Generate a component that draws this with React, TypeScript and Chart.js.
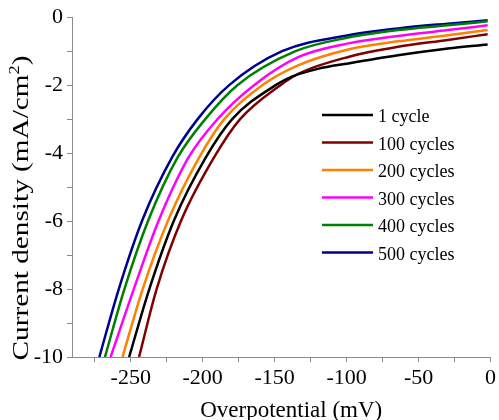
import React, { useEffect, useRef } from 'react';
import { Chart, registerables } from 'chart.js';

Chart.register(...registerables);

const FONT = "'Liberation Serif', 'Times New Roman', Times, serif";
Chart.defaults.font.family = FONT;

const seriesLabels = ['1 cycle', '100 cycles', '200 cycles', '300 cycles', '400 cycles', '500 cycles'];
const seriesColors = ['#000000', '#7f0000', '#ff8000', '#ff00ff', '#008000', '#000090'];

// Overpotential (mV) / current density (mA/cm2) per series
const x1 = [-251.1, -237.3, -219.8, -197.7, -179.5, -149.3, -138, -120, -98.8, -64.2, -29.7, -2];
const y1 = [-10, -8.03, -5.97, -4.12, -3, -2, -1.75, -1.52, -1.36, -1.12, -0.92, -0.8];

const x100 = [-244.2, -232.2, -214.8, -192, -174, -146, -133.3, -98.8, -64.2, -29.7, -2];
const y100 = [-10, -8.03, -5.97, -4.12, -3, -2, -1.66, -1.17, -0.87, -0.67, -0.5];

const x200 = [-255.7, -241.9, -223.9, -202.3, -185, -158.6, -133.3, -98.8, -64.2, -29.7, -2];
const y200 = [-10, -8.03, -5.97, -4.12, -3, -2, -1.41, -0.95, -0.71, -0.53, -0.38];

const x300 = [-264, -248.1, -230.4, -209.7, -189.7, -164.3, -133.3, -98.8, -64.2, -29.7, -2];
const y300 = [-10, -8.03, -5.97, -4.12, -3, -2, -1.17, -0.77, -0.55, -0.38, -0.24];

const x400 = [-267.9, -254.6, -237.7, -217.3, -198.2, -175.9, -135.5, -98.8, -64.2, -29.7, -2];
const y400 = [-10, -8.03, -5.97, -4.12, -3, -2, -1.0, -0.6, -0.38, -0.24, -0.12];

const x500 = [-271.8, -258.5, -241.9, -221.2, -203.5, -181.6, -144.8, -98.8, -64.2, -29.7, -2];
const y500 = [-10, -8.03, -5.97, -4.12, -3, -2, -1.0, -0.53, -0.33, -0.19, -0.09];

const seriesX = [x1, x100, x200, x300, x400, x500];
const seriesY = [y1, y100, y200, y300, y400, y500];

const xTickValues = [-275, -250, -225, -200, -175, -150, -125, -100, -75, -50, -25, 0];
const yTickValues = [-10, -9, -8, -7, -6, -5, -4, -3, -2, -1, 0];

const xTitle = 'Overpotential (mV)';
const yTitleMain = 'Current density (mA/cm';
const yTitleSup = '2';
const yTitleEnd = ')';

const decorPlugin = {
  id: 'decor',
  afterDraw(chart: any) {
    const ctx = chart.ctx as CanvasRenderingContext2D;
    const area = chart.chartArea;
    // x title
    ctx.save();
    ctx.fillStyle = '#000';
    ctx.font = `23px ${FONT}`;
    ctx.textAlign = 'center';
    ctx.textBaseline = 'alphabetic';
    ctx.fillText(xTitle, (area.left + area.right) / 2 + 10, 417);
    ctx.restore();

    // y title (rotated, stretched along its length)
    ctx.save();
    ctx.fillStyle = '#000';
    const mainFont = `24px ${FONT}`;
    const supFont = `15px ${FONT}`;
    ctx.font = mainFont;
    const w1 = ctx.measureText(yTitleMain).width;
    const w3 = ctx.measureText(yTitleEnd).width;
    ctx.font = supFont;
    const w2 = ctx.measureText(yTitleSup).width;
    const W = w1 + w2 + w3;
    const target = 305;
    const k = target / W;
    ctx.translate(28, 208);
    ctx.rotate(-Math.PI / 2);
    ctx.scale(k, 1);
    ctx.textAlign = 'left';
    ctx.textBaseline = 'alphabetic';
    let sx = -W / 2;
    ctx.font = mainFont;
    ctx.fillText(yTitleMain, sx, 0);
    sx += w1;
    ctx.font = supFont;
    ctx.fillText(yTitleSup, sx, -9);
    sx += w2;
    ctx.font = mainFont;
    ctx.fillText(yTitleEnd, sx, 0);
    ctx.restore();

    // legend
    ctx.save();
    const lx0 = 322;
    const lx1 = 373;
    const tx = 378;
    const y0 = 115;
    const dy = 27.5;
    ctx.font = `18px ${FONT}`;
    ctx.textAlign = 'left';
    ctx.textBaseline = 'alphabetic';
    seriesLabels.forEach((lab, i) => {
      const y = y0 + i * dy;
      ctx.strokeStyle = seriesColors[i];
      ctx.lineWidth = 2.5;
      ctx.beginPath();
      ctx.moveTo(lx0, y);
      ctx.lineTo(lx1, y);
      ctx.stroke();
      ctx.fillStyle = '#000';
      ctx.fillText(lab, tx, y + 7);
    });
    ctx.restore();
  },
};

export default function App() {
  const ref = useRef<HTMLCanvasElement | null>(null);
  useEffect(() => {
    if (!ref.current) return;
    const datasets = seriesLabels.map((lab, i) => ({
      label: lab,
      data: seriesX[i].map((x, j) => ({ x, y: seriesY[i][j] })),
      borderColor: seriesColors[i],
      backgroundColor: seriesColors[i],
      borderWidth: 2.5,
      pointRadius: 0,
      fill: false,
      cubicInterpolationMode: 'monotone' as const,
    }));
    const tickFont = { family: FONT, size: 22 };
    const chart = new Chart(ref.current, {
      type: 'line',
      data: { datasets },
      options: {
        animation: false,
        responsive: false,
        devicePixelRatio: 1,
        layout: { padding: { top: 17, right: 6, left: 0, bottom: 0 } },
        plugins: { legend: { display: false }, tooltip: { enabled: false } },
        scales: {
          x: {
            type: 'linear',
            min: -290.8,
            max: 0,
            afterBuildTicks: (axis: any) => {
              axis.ticks = xTickValues.map((v) => ({ value: v }));
            },
            afterFit: (s: any) => {
              s.height = 63;
            },
            ticks: {
              autoSkip: false,
              maxRotation: 0,
              padding: 3,
              color: '#000',
              font: tickFont,
              callback: (v: any) => (Number(v) % 50 === 0 ? String(v) : ''),
            },
            grid: { drawOnChartArea: false, tickLength: 5, tickColor: '#8a8a8a' },
            border: { color: '#8a8a8a', width: 1 },
          },
          y: {
            type: 'linear',
            min: -10,
            max: 0,
            afterBuildTicks: (axis: any) => {
              axis.ticks = yTickValues.map((v) => ({ value: v }));
            },
            afterFit: (s: any) => {
              s.width = 72;
            },
            ticks: {
              autoSkip: false,
              padding: 4,
              color: '#000',
              font: tickFont,
              callback: (v: any) => (Number(v) % 2 === 0 ? String(v) : ''),
            },
            grid: { drawOnChartArea: false, tickLength: 5, tickColor: '#8a8a8a' },
            border: { color: '#8a8a8a', width: 1 },
          },
        },
      },
      plugins: [decorPlugin],
    });
    return () => chart.destroy();
  }, []);
  return (
    <div style={{ position: 'fixed', left: 0, top: 0, width: 499, height: 420, background: '#fff' }}>
      <canvas ref={ref} width={499} height={420} style={{ display: 'block' }} />
    </div>
  );
}
